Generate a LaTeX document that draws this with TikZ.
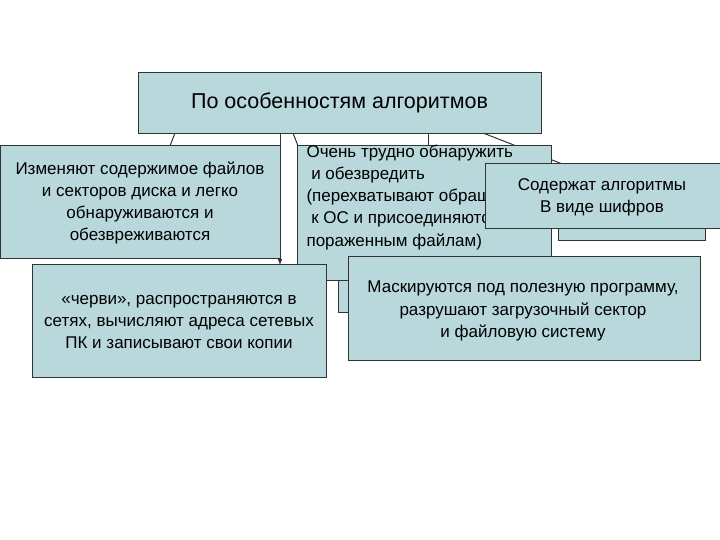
\documentclass[tikz,border=0pt]{standalone}
\usepackage{fontspec}
\setmainfont{Liberation Sans}
\definecolor{boxfill}{RGB}{184,216,220}
\begin{document}
\begin{tikzpicture}[x=1pt,y=-1pt,
  bx/.style={draw=black!80, line width=0.8pt, fill=boxfill, rectangle, inner sep=0pt, anchor=north west},
  ln/.style={draw=black!80, line width=1pt},
  tx/.style={align=center, font=\fontsize{17}{22.3}\selectfont}]
\useasboundingbox (0,0) rectangle (720,540);
% lines
\coordinate (a1) at (175,133); \coordinate (a2) at (170,146);
\coordinate (b1) at (293,133); \coordinate (b2) at (298,146);
\coordinate (c1) at (428,133); \coordinate (c2) at (428,146);
\coordinate (d1) at (483,133); \coordinate (d2) at (570,167);
\coordinate (e1) at (280,133); \coordinate (e2) at (280,265);
\draw[ln] (a1) -- (a2);
\draw[ln] (b1) -- (b2);
\draw[ln] (c1) -- (c2);
\draw[ln] (d1) -- (d2);
% hidden boxes
\node[bx, minimum width=147pt, minimum height=65pt] (hr) at (558,175) {};
\node[bx, minimum width=30pt, minimum height=50pt] (hb) at (338,262) {};
% main boxes
\node[bx, minimum width=403pt, minimum height=61pt] (top) at (138,72) {};
\node[font=\fontsize{21.5}{24}\selectfont] (toptx) at (339.5,103) {По особенностям алгоритмов};
\node[bx, minimum width=254pt, minimum height=135pt] (mid) at (297,145) {};
\node[tx, align=left, anchor=north west] (midtx) at (303,141) {Очень трудно обнаружить\\\ и обезвредить\\(перехватывают обращения\\\ к ОС и присоединяются к\\пораженным файлам)};
\node[bx, minimum width=280pt, minimum height=113pt] (left) at (0,145) {};
\node[tx] (lefttx) at (140,203) {Изменяют содержимое файлов\\и секторов диска и легко\\обнаруживаются и\\обезвреживаются};
\draw[ln, -latex] (e1) -- (e2);
\node[bx, minimum width=235pt, minimum height=65pt] (right) at (485,163) {};
\node[tx] (righttx) at (602,197) {Содержат алгоритмы\\В виде шифров};
\node[bx, minimum width=294pt, minimum height=113pt] (bl) at (32,264) {};
\node[tx] (bltx) at (179,322) {«черви», распространяются в\\сетях, вычисляют адреса сетевых\\ПК и записывают свои копии};
\node[bx, minimum width=352pt, minimum height=104pt] (br) at (348,256) {};
\node[tx] (brtx) at (523,311) {Маскируются под полезную программу,\\разрушают загрузочный сектор\\и файловую систему};
\end{tikzpicture}
\end{document}
